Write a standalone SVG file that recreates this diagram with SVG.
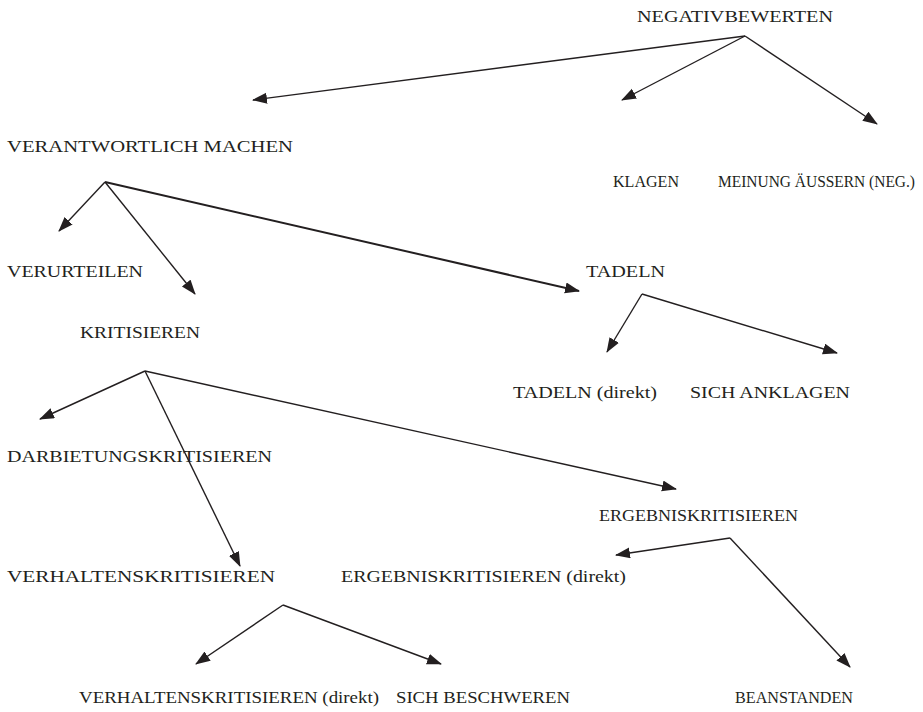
<svg xmlns="http://www.w3.org/2000/svg" width="923" height="712" viewBox="0 0 923 712">
<style>
text{font-family:"Liberation Serif","Times New Roman",serif;font-size:17px;fill:#231f20}
.c line{stroke:#231f20;stroke-width:1.4;marker-end:url(#ah)}
</style>
<defs>
<marker id="ah" markerUnits="userSpaceOnUse" markerWidth="16" markerHeight="12" refX="14" refY="5.5" orient="auto"><path d="M0,0 L15,5.5 L0,11 z" fill="#231f20"/></marker>
</defs>
<rect width="923" height="712" fill="#fff"/>
<g class="c" id="connectors">
<line x1="745" y1="36" x2="253" y2="100"/>
<line x1="745" y1="36" x2="622" y2="100"/>
<line x1="745" y1="36" x2="877" y2="124"/>
<line x1="105" y1="182" x2="59" y2="231"/>
<line x1="105" y1="182" x2="195" y2="294"/>
<line x1="105" y1="182" x2="579" y2="291" style="stroke-width:2"/>
<line x1="642" y1="294" x2="607" y2="352"/>
<line x1="642" y1="294" x2="837" y2="353"/>
<line x1="145" y1="371" x2="40" y2="419"/>
<line x1="145" y1="371" x2="240" y2="566"/>
<line x1="145" y1="371" x2="676" y2="489"/>
<line x1="730" y1="538" x2="616" y2="555"/>
<line x1="730" y1="538" x2="850" y2="667"/>
<line x1="283" y1="605" x2="196" y2="664"/>
<line x1="283" y1="605" x2="441" y2="664"/>
</g>
<g id="negativbewerten"><text x="637" y="22" textLength="196" lengthAdjust="spacingAndGlyphs">NEGATIVBEWERTEN</text></g>
<g id="verantwortlich"><text x="7" y="152" textLength="286" lengthAdjust="spacingAndGlyphs">VERANTWORTLICH MACHEN</text></g>
<g id="klagen"><text x="613" y="187" textLength="66" lengthAdjust="spacingAndGlyphs">KLAGEN</text></g>
<g id="meinung"><text x="718" y="187" style="font-size:16px" textLength="197" lengthAdjust="spacingAndGlyphs">MEINUNG ÄUSSERN (NEG.)</text></g>
<g id="verurteilen"><text x="7" y="277" textLength="136" lengthAdjust="spacingAndGlyphs">VERURTEILEN</text></g>
<g id="tadeln"><text x="586" y="277" textLength="79" lengthAdjust="spacingAndGlyphs">TADELN</text></g>
<g id="kritisieren"><text x="80" y="338" textLength="120" lengthAdjust="spacingAndGlyphs">KRITISIEREN</text></g>
<g id="tadeln-direkt"><text x="513" y="398" textLength="144" lengthAdjust="spacingAndGlyphs">TADELN (direkt)</text></g>
<g id="sich-anklagen"><text x="690" y="398" textLength="160" lengthAdjust="spacingAndGlyphs">SICH ANKLAGEN</text></g>
<g id="darbietung"><text x="7" y="462" textLength="265" lengthAdjust="spacingAndGlyphs">DARBIETUNGSKRITISIEREN</text></g>
<g id="ergebnis"><text x="599" y="521" textLength="199" lengthAdjust="spacingAndGlyphs">ERGEBNISKRITISIEREN</text></g>
<g id="verhalten"><text x="7" y="582" textLength="268" lengthAdjust="spacingAndGlyphs">VERHALTENSKRITISIEREN</text></g>
<g id="ergebnis-direkt"><text x="341" y="582" textLength="285" lengthAdjust="spacingAndGlyphs">ERGEBNISKRITISIEREN  (direkt)</text></g>
<g id="verhalten-direkt"><text x="79" y="703" textLength="300" lengthAdjust="spacingAndGlyphs">VERHALTENSKRITISIEREN  (direkt)</text></g>
<g id="sich-beschweren"><text x="396" y="703" textLength="174" lengthAdjust="spacingAndGlyphs">SICH BESCHWEREN</text></g>
<g id="beanstanden"><text x="735" y="703" textLength="118" lengthAdjust="spacingAndGlyphs">BEANSTANDEN</text></g>
</svg>
